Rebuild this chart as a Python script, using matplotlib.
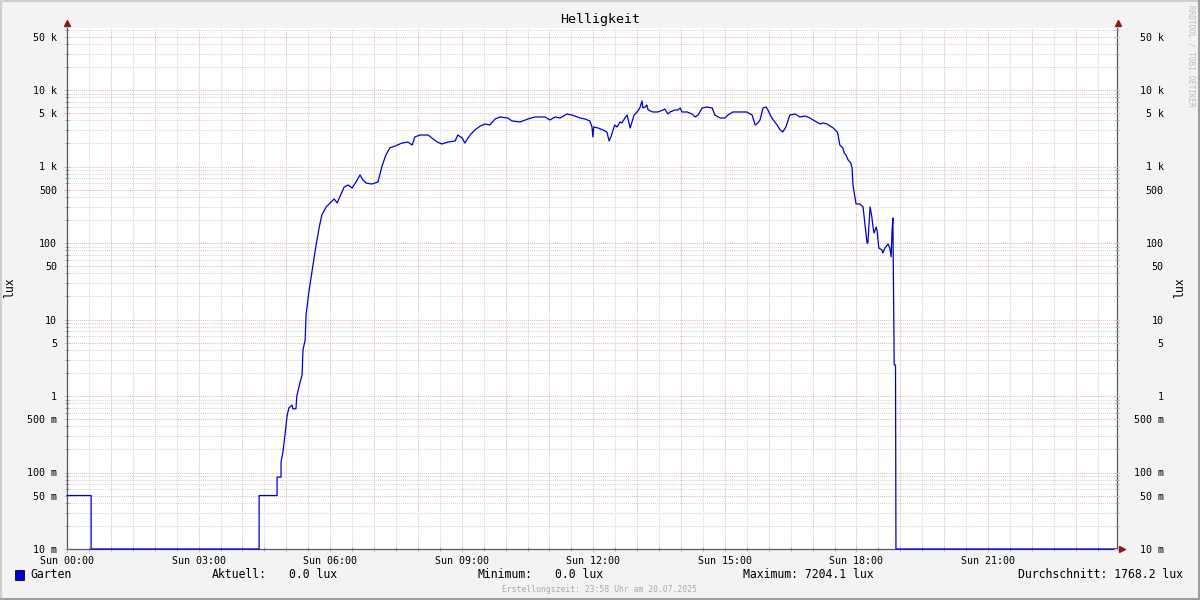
import numpy as np
import matplotlib
matplotlib.use("Agg")
import matplotlib.pyplot as plt
from matplotlib.ticker import NullFormatter
from matplotlib.lines import Line2D
from matplotlib.patches import Rectangle

# ---------------- data ----------------
hours = [0.00, 0.55, 0.55, 4.38, 4.38, 4.79, 4.79, 4.88, 4.88, 4.92, 4.97, 5.02, 5.06, 5.13,
         5.15, 5.22, 5.24, 5.31, 5.36, 5.38, 5.43, 5.45, 5.52, 5.61, 5.68, 5.75, 5.81, 5.91,
         6.00, 6.09, 6.16, 6.22, 6.32, 6.41, 6.50, 6.59, 6.68, 6.75, 6.82, 6.95, 7.09, 7.18,
         7.27, 7.36, 7.48, 7.64, 7.77, 7.87, 7.93, 8.05, 8.23, 8.32, 8.44, 8.55, 8.69, 8.85,
         8.91, 9.01, 9.07, 9.19, 9.30, 9.42, 9.53, 9.64, 9.76, 9.87, 10.05, 10.15, 10.33,
         10.51, 10.67, 10.90, 11.01, 11.13, 11.24, 11.40, 11.51, 11.63, 11.70, 11.81, 11.92,
         11.97, 11.99, 12.01, 12.11, 12.22, 12.31, 12.36, 12.40, 12.45, 12.49, 12.54, 12.61,
         12.65, 12.72, 12.77, 12.84, 12.86, 12.93, 13.00, 13.06, 13.11, 13.13, 13.18, 13.22,
         13.25, 13.36, 13.47, 13.59, 13.63, 13.70, 13.75, 13.86, 13.93, 13.98, 14.02, 14.14,
         14.25, 14.32, 14.39, 14.48, 14.59, 14.71, 14.77, 14.89, 15.00, 15.07, 15.18, 15.50,
         15.62, 15.69, 15.75, 15.80, 15.87, 15.94, 15.98, 16.07, 16.19, 16.26, 16.32, 16.39,
         16.48, 16.60, 16.71, 16.83, 16.94, 17.05, 17.17, 17.24, 17.33, 17.40, 17.47, 17.56,
         17.58, 17.62, 17.69, 17.72, 17.76, 17.81, 17.87, 17.90, 17.92, 17.99, 18.08, 18.15,
         18.17, 18.24, 18.26, 18.31, 18.35, 18.38, 18.40, 18.45, 18.47, 18.51, 18.58, 18.60,
         18.65, 18.72, 18.76, 18.79, 18.81, 18.83, 18.86, 18.89, 18.90, 23.94]

lux = [0.05, 0.05, 0.0, 0.0, 0.05, 0.05, 0.087, 0.087, 0.137, 0.18, 0.31, 0.56, 0.70, 0.76,
       0.68, 0.68, 1.0, 1.48, 1.88, 4.0, 5.4, 11.5, 24, 52, 95, 160, 232, 296,
       334, 376, 334, 399, 540, 573, 524, 627, 775, 666, 608, 590, 627, 1000,
       1413, 1745, 1854, 2028, 2090, 1910, 2432, 2582, 2582, 2360, 2090, 1970, 2090, 2155,
       2582, 2360, 2028, 2582, 3000, 3380, 3595, 3485, 4180, 4440, 4305, 3935, 3820,
       4180, 4440, 4440, 4055, 4440, 4305, 4855, 4710, 4440, 4305, 4180, 3935,
       3283, 2432, 3283, 3186, 3000, 2825, 2155, 2432, 3000, 3487, 3283, 3820,
       3705, 4305, 4710, 3186, 3487, 4710, 5160, 5820, 7204.1, 5820, 5990, 6370,
       5480, 5160, 5160, 5480, 5650, 4855, 5160, 5480, 5480, 5820, 5160, 5160,
       4855, 4440, 4710, 5820, 5990, 5820, 4710, 4305, 4305, 4710, 5160, 5160,
       4710, 3487, 3705, 4055, 5820, 5990, 5480, 4305, 3487, 3000, 2825, 3283,
       4710, 4855, 4440, 4570, 4305, 3935, 3595, 3705, 3595, 3380, 3186, 2825,
       2582, 1910, 1745, 1500, 1413, 1216, 1111, 955, 573, 324, 324, 296,
       232, 100, 100, 296, 219, 157, 135, 162, 144, 86, 81, 74,
       86, 97, 86, 66, 139, 212, 2.54, 2.54, 0.0, 0.0]

title = "Helligkeit"
series_name = "Garten"
unit_label = "lux"
x_label_hours = [0, 3, 6, 9, 12, 15, 18, 21]
x_labels = ["Sun 00:00", "Sun 03:00", "Sun 06:00", "Sun 09:00",
            "Sun 12:00", "Sun 15:00", "Sun 18:00", "Sun 21:00"]
y_major = [0.01, 0.05, 0.1, 0.5, 1, 5, 10, 50, 100, 500, 1e3, 5e3, 1e4, 5e4]
y_labels = ["10 m", "50 m", "100 m", "500 m", "1", "5", "10", "50",
            "100", "500", "1 k", "5 k", "10 k", "50 k"]
stat_aktuell = "0.0 lux"
stat_min = "0.0 lux"
stat_max = "7204.1 lux"
stat_avg = "1768.2 lux"
footer = "Erstellungszeit: 23:58 Uhr am 20.07.2025"
watermark = "RRDTOOL / TOBI OETIKER"

# ---------------- style ----------------
MONO = ["DejaVu Sans Mono"]
plt.rcParams["font.family"] = MONO
BG = "#F3F3F3"
LINE = "#0000CC"
MAJ = "#EBB7B7"
MIN = "#D6D6D6"
AXC = "#5A5A5A"
ARROW = "#8B1A1A"

W, H = 1200, 600
fig = plt.figure(figsize=(12, 6), dpi=100, facecolor=BG)

def fx(px):
    return px / W

def fy(py):
    return 1 - py / H

L, R, T, B = 67, 1117, 28, 549
ax = fig.add_axes([fx(L), fy(B), (R - L) / W, (B - T) / H])
ax.set_facecolor("white")
ax.set_yscale("log")
y_bottom = 0.01
y_top = 10 ** ((B - T) / 76.5 - 2)
ax.set_ylim(y_bottom, y_top)
x_end = (R - L) / 43.86
ax.set_xlim(0, x_end)

# grid
y_minor = [m * 10.0 ** e for e in range(-2, 5) for m in (2, 3, 4, 6, 7, 8, 9)]
y_minor = [v for v in y_minor if v < y_top]
ax.set_yticks(y_major)
ax.set_yticklabels(y_labels)
ax.set_yticks(y_minor, minor=True)
ax.yaxis.set_minor_formatter(NullFormatter())

x_major = np.arange(0, 24, 1)
x_minor = np.arange(0.5, 24, 1)
ax.set_xticks(x_major)
ax.set_xticklabels([x_labels[x_label_hours.index(h)] if h in x_label_hours else "" for h in x_major])
ax.set_xticks(x_minor, minor=True)

ax.grid(True, which="major", color=MAJ, linestyle=(0, (1, 1)), linewidth=0.75)
ax.grid(True, which="minor", color=MIN, linestyle=(0, (1, 1)), linewidth=0.75)
ax.set_axisbelow(True)

ax.tick_params(axis="both", which="both", labelsize=7.2, colors="black")
ax.tick_params(axis="y", which="major", direction="inout", length=4, width=0.75,
               color=MAJ, pad=5)
ax.tick_params(axis="y", which="minor", direction="inout", length=3, width=0.75, color="#AAAAAA")
ax.tick_params(axis="x", which="major", direction="inout", length=4, width=0.75,
               color=MAJ, pad=3)
ax.tick_params(axis="x", which="minor", direction="inout", length=3, width=0.75, color="#AAAAAA")

for s in ("left", "right", "bottom"):
    ax.spines[s].set_color(AXC)
    ax.spines[s].set_linewidth(0.9)
ax.spines["top"].set_visible(False)

# right side labels (right-aligned)
ax2 = ax.twinx()
ax2.set_yscale("log")
ax2.set_ylim(y_bottom, y_top)
ax2.set_yticks(y_major)
ax2.set_yticklabels(y_labels)
ax2.set_yticks(y_minor, minor=True)
ax2.yaxis.set_minor_formatter(NullFormatter())
ax2.tick_params(axis="y", which="major", direction="inout", length=4, width=0.75,
                color=MAJ, pad=31.5, labelsize=7.2)
ax2.tick_params(axis="y", which="minor", direction="inout", length=3, width=0.75, color="#AAAAAA")
plt.setp(ax2.get_yticklabels(), ha="right")
for s in ax2.spines.values():
    s.set_visible(False)

# data line
vals = np.maximum(np.array(lux, dtype=float), y_bottom)
ax.plot(hours, vals, color=LINE, linewidth=0.9, zorder=5, clip_on=False)

# arrows
fig.add_artist(Line2D([fx(L)], [fy(23)], marker="^", markersize=4.5, color=ARROW, linestyle="none"))
fig.add_artist(Line2D([fx(R + 1)], [fy(23)], marker="^", markersize=4.5, color=ARROW, linestyle="none"))
fig.add_artist(Line2D([fx(R + 5)], [fy(B)], marker=">", markersize=4.5, color=ARROW, linestyle="none"))

# title / axis labels
fig.text(0.5, fy(19), title, ha="center", va="center", fontsize=9.6)
fig.text(fx(10), fy(288), unit_label, rotation=90, ha="center", va="center", fontsize=8.3)
fig.text(fx(1180), fy(288), unit_label, rotation=90, ha="center", va="center", fontsize=8.3)
fig.text(fx(1191), fy(5), watermark, rotation=-90, ha="center", va="top", fontsize=5.6, color="#BBBBBB")

# legend
fig.add_artist(Rectangle((fx(15), fy(580)), 9 / W, 10 / H, transform=fig.transFigure,
                         facecolor=LINE, edgecolor="#000033", linewidth=0.6))
ly = fy(575)
fs = 8.3
fig.text(fx(30), ly, series_name, ha="left", va="center", fontsize=fs)
fig.text(fx(212), ly, "Aktuell:", ha="left", va="center", fontsize=fs)
fig.text(fx(289), ly, stat_aktuell, ha="left", va="center", fontsize=fs)
fig.text(fx(478), ly, "Minimum:", ha="left", va="center", fontsize=fs)
fig.text(fx(555), ly, stat_min, ha="left", va="center", fontsize=fs)
fig.text(fx(743), ly, "Maximum: " + stat_max, ha="left", va="center", fontsize=fs)
fig.text(fx(1183), ly, "Durchschnitt: " + stat_avg, ha="right", va="center", fontsize=fs)
fig.text(0.5, fy(589), footer, ha="center", va="center", fontsize=5.8, color="#AAAAAA")

# frame
fig.add_artist(Line2D([0, 1], [fy(1), fy(1)], color="#CFCFCF", linewidth=1.5))
fig.add_artist(Line2D([fx(1), fx(1)], [0, 1], color="#CFCFCF", linewidth=1.5))
fig.add_artist(Line2D([0, 1], [fy(599), fy(599)], color="#9E9E9E", linewidth=1.5))
fig.add_artist(Line2D([fx(1199), fx(1199)], [0, 1], color="#9E9E9E", linewidth=1.5))

fig.savefig("out.png", dpi=100, facecolor=BG)
